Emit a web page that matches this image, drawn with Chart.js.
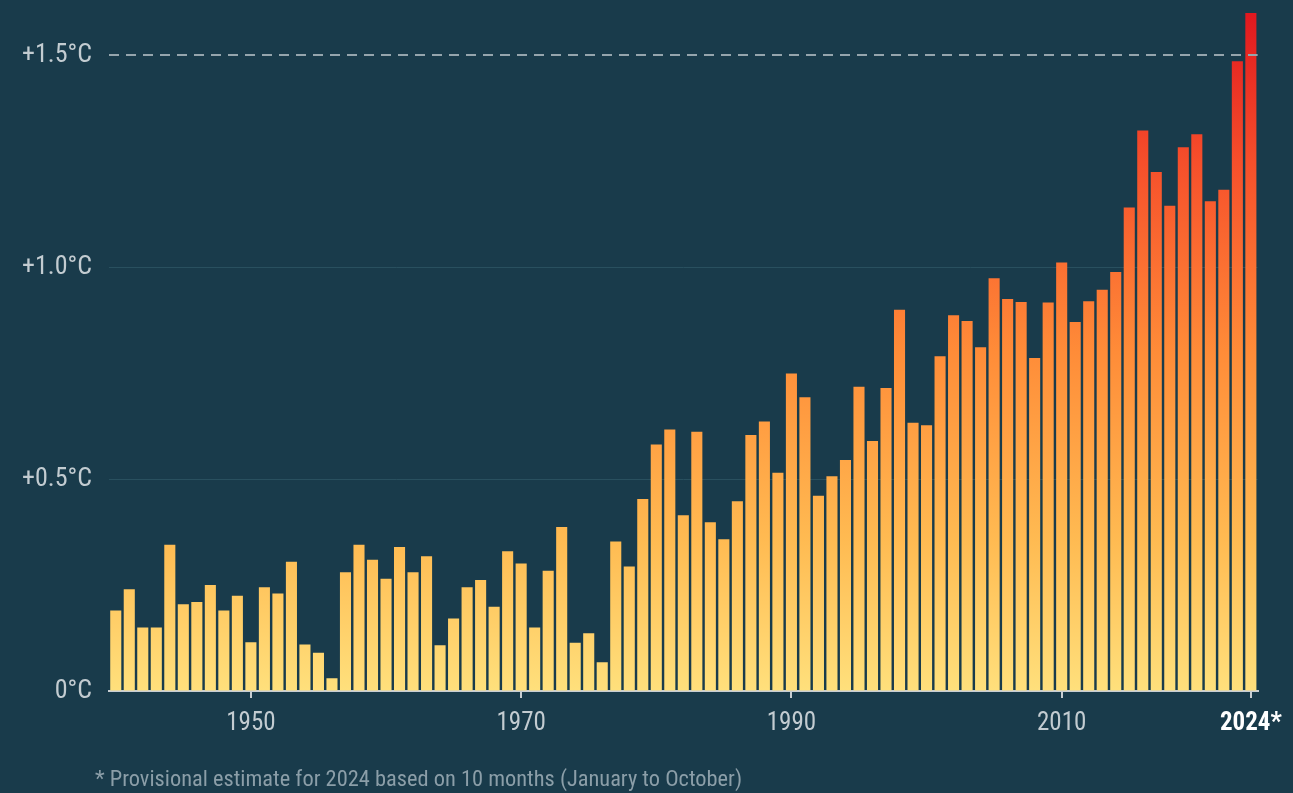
<!DOCTYPE html>
<html lang="en">
<head>
<meta charset="UTF-8">
<title>Global temperature anomaly 1940-2024</title>
<script src="https://cdn.jsdelivr.net/npm/chart.js"></script>
<style>
  html, body { margin: 0; padding: 0; background: #193b4b; }
  #wrap { position: relative; width: 1293px; height: 793px; }
  #note {
    position: absolute; left: 95px; top: 765px;
    font-family: 'Roboto Condensed', 'Liberation Sans Narrow', Roboto, sans-serif;
    font-size: 22.4px; color: #8b9ea8; white-space: nowrap;
  }
</style>
</head>
<body>
<div id="wrap">
  <canvas id="chart" width="1293" height="793"></canvas>
  <div id="note">* Provisional estimate for 2024 based on 10 months (January to October)</div>
</div>
<script>
const years = [
  1940, 1941, 1942, 1943, 1944, 1945, 1946, 1947, 1948, 1949,
  1950, 1951, 1952, 1953, 1954, 1955, 1956, 1957, 1958, 1959,
  1960, 1961, 1962, 1963, 1964, 1965, 1966, 1967, 1968, 1969,
  1970, 1971, 1972, 1973, 1974, 1975, 1976, 1977, 1978, 1979,
  1980, 1981, 1982, 1983, 1984, 1985, 1986, 1987, 1988, 1989,
  1990, 1991, 1992, 1993, 1994, 1995, 1996, 1997, 1998, 1999,
  2000, 2001, 2002, 2003, 2004, 2005, 2006, 2007, 2008, 2009,
  2010, 2011, 2012, 2013, 2014, 2015, 2016, 2017, 2018, 2019,
  2020, 2021, 2022, 2023, 2024
];
// anomaly vs pre-industrial, °C
const anomaly = [
  0.19, 0.24, 0.15, 0.15, 0.345, 0.205, 0.21, 0.25, 0.19, 0.225,
  0.115, 0.245, 0.23, 0.305, 0.11, 0.09, 0.03, 0.28, 0.345, 0.31,
  0.265, 0.34, 0.28, 0.318, 0.108, 0.171, 0.245, 0.262, 0.199, 0.33,
  0.301, 0.15, 0.284, 0.387, 0.114, 0.136, 0.068, 0.353, 0.294, 0.453,
  0.582, 0.617, 0.415, 0.612, 0.398, 0.358, 0.448, 0.604, 0.636, 0.515,
  0.749, 0.693, 0.461, 0.507, 0.545, 0.718, 0.59, 0.715, 0.9, 0.633,
  0.627, 0.79, 0.887, 0.873, 0.811, 0.974, 0.925, 0.918, 0.786, 0.917,
  1.011, 0.871, 0.92, 0.947, 0.989, 1.141, 1.323, 1.225, 1.145, 1.283,
  1.314, 1.156, 1.183, 1.486, 1.6
];
const shownYears = [1950, 1970, 1990, 2010, 2024];
const provisionalYear = 2024;
const yTicks = [0, 0.5, 1.0, 1.5];
const limit = 1.5;

const fontFamily = "'Roboto Condensed', 'Liberation Sans Narrow', Roboto, sans-serif";
const labelGrey = '#c3ccd1';

let gradCache = null;
function barGradient(chart) {
  const area = chart.chartArea;
  if (!area) return '#ffd56e';
  const key = area.top + ':' + area.bottom;
  if (gradCache && gradCache.key === key) return gradCache.g;
  const g = chart.ctx.createLinearGradient(0, area.bottom, 0, area.top);
  g.addColorStop(0, '#ffe07c');
  g.addColorStop(0.22, '#ffbb52');
  g.addColorStop(0.5, '#ff8c38');
  g.addColorStop(0.78, '#f64f2b');
  g.addColorStop(1, '#e0181f');
  gradCache = { key, g };
  return g;
}

const limitLine = {
  id: 'limitLine',
  afterDatasetsDraw(chart) {
    const { ctx, chartArea, scales } = chart;
    const y = Math.round(scales.y.getPixelForValue(limit));
    ctx.save();
    ctx.strokeStyle = '#95a5ad';
    ctx.lineWidth = 2;
    ctx.setLineDash([10, 7]);
    ctx.beginPath();
    ctx.moveTo(chartArea.left, y);
    ctx.lineTo(chartArea.right, y);
    ctx.stroke();
    ctx.restore();
  }
};

new Chart(document.getElementById('chart'), {
  type: 'bar',
  data: {
    labels: years,
    datasets: [{
      data: anomaly,
      backgroundColor: c => barGradient(c.chart),
      borderWidth: 0,
      barPercentage: 0.82,
      categoryPercentage: 1
    }]
  },
  options: {
    responsive: false,
    animation: false,
    layout: { padding: { top: 13, right: 33, left: 0, bottom: 0 } },
    plugins: { legend: { display: false }, tooltip: { enabled: false } },
    scales: {
      x: {
        offset: true,
        afterBuildTicks: s => { s.ticks = s.ticks.filter(t => shownYears.includes(years[t.value])); },
        afterFit: s => { s.height = 102; },
        ticks: {
          autoSkip: false,
          maxRotation: 0,
          padding: 11,
          color: c => c.tick && c.tick.label === provisionalYear + '*' ? '#ffffff' : labelGrey,
          font: c => ({
            family: fontFamily,
            size: 25,
            weight: c.tick && c.tick.label === provisionalYear + '*' ? 'bold' : 'normal'
          }),
          callback: v => years[v] === provisionalYear ? years[v] + '*' : String(years[v])
        },
        grid: { offset: false, drawOnChartArea: false, tickLength: 7, color: '#c8ced2', lineWidth: 2 },
        border: { color: '#c8ced2', width: 2 }
      },
      y: {
        min: 0,
        max: 1.6,
        afterBuildTicks: s => { s.ticks = yTicks.map(v => ({ value: v })); },
        afterFit: s => { s.width = 109; s.paddingTop = 0; s.paddingBottom = 0; },
        ticks: {
          padding: 17,
          color: labelGrey,
          font: { family: fontFamily, size: 26 },
          callback: v => v === 0 ? '0°C' : '+' + v.toFixed(1) + '°C'
        },
        grid: {
          drawTicks: false,
          lineWidth: 1,
          color: c => (c.tick && (c.tick.value === 0.5 || c.tick.value === 1)) ? '#29505f' : 'rgba(0,0,0,0)'
        },
        border: { display: false }
      }
    }
  },
  plugins: [limitLine]
});
</script>
</body>
</html>
